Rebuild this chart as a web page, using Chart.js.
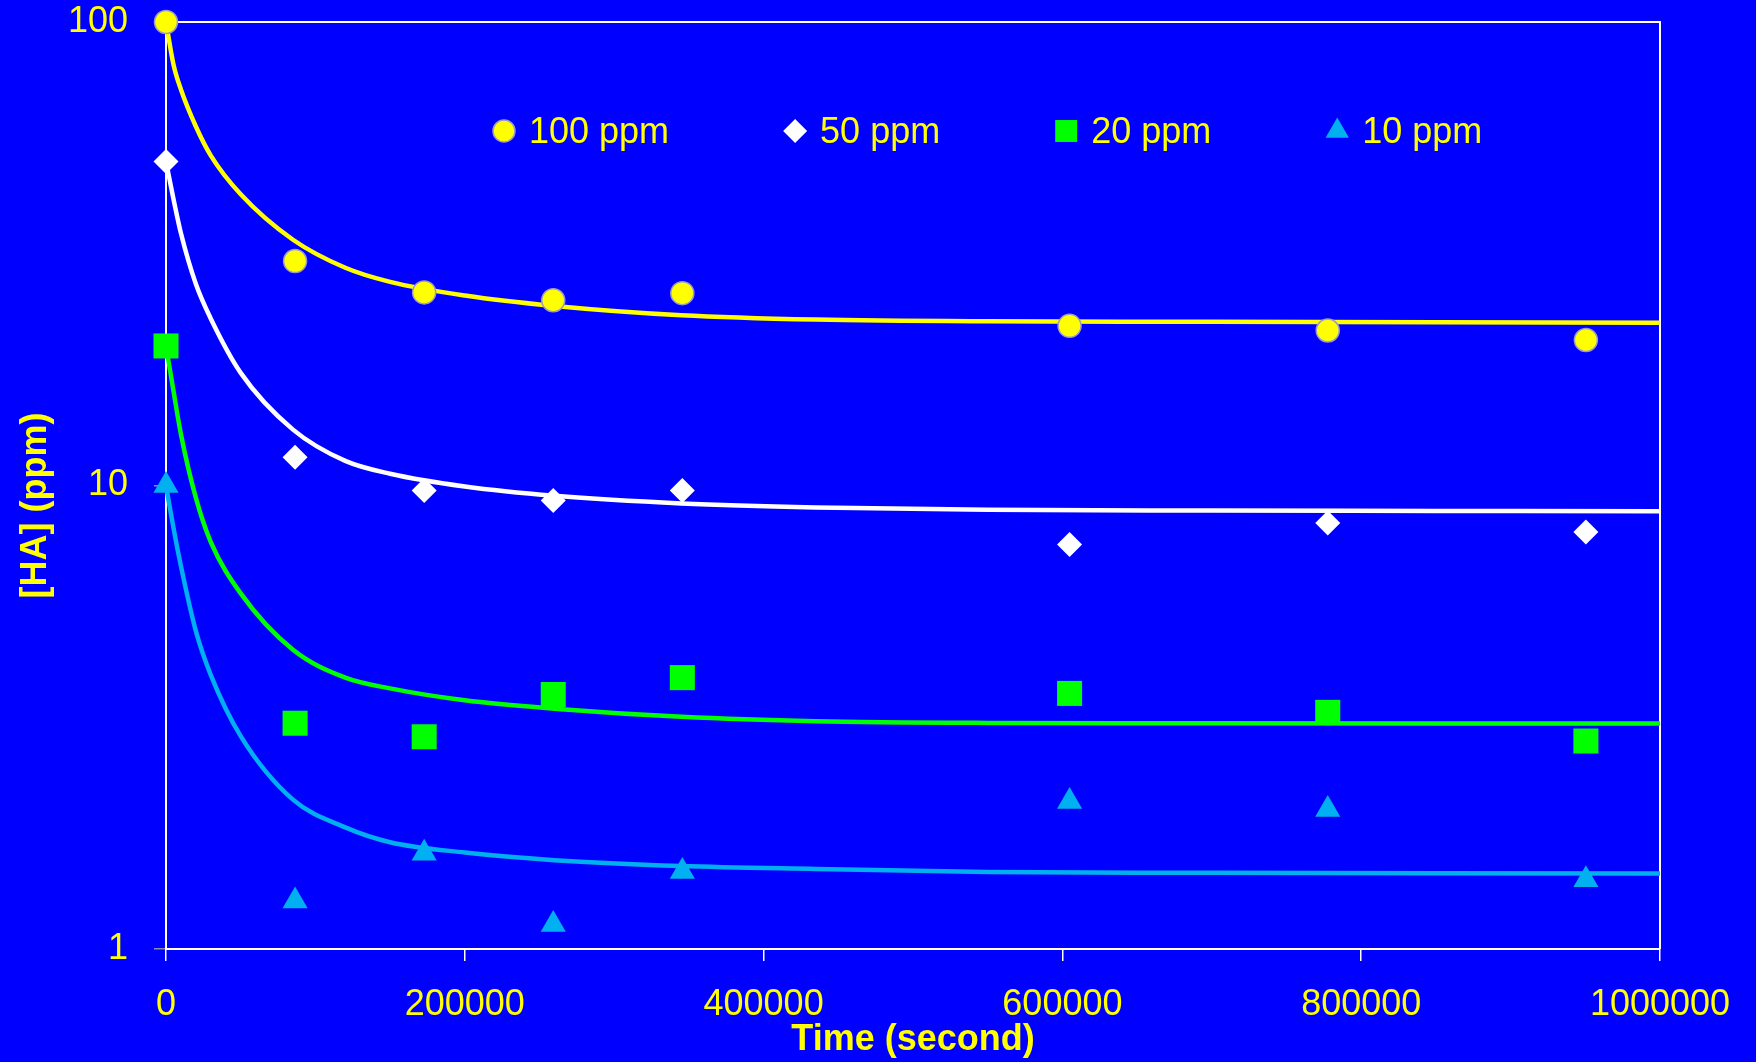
<!DOCTYPE html>
<html>
<head>
<meta charset="utf-8">
<script src="https://cdn.jsdelivr.net/npm/chart.js@4.4.0/dist/chart.umd.min.js"></script>
<style>
  html, body { margin: 0; padding: 0; background: #0000ff; }
  canvas { display: block; }
</style>
</head>
<body>
<canvas id="chart" width="1756" height="1062"></canvas>
<script>
// measured concentrations, sampling time in seconds
const times = [0, 86400, 172800, 259200, 345600, 604800, 777600, 950400];
const ha100 = [100, 30.5, 26.1, 25.1, 26.0, 22.1, 21.6, 20.6];
const ha50 = [50, 11.5, 9.75, 9.28, 9.75, 7.46, 8.3, 7.94];
const ha20 = [20, 3.07, 2.87, 3.54, 3.85, 3.56, 3.24, 2.81];
const ha10 = [10, 1.27, 1.61, 1.13, 1.47, 2.08, 2.0, 1.41];

// fitted model curves
const fitTime = [0, 5000, 10000, 20000, 30000, 50000, 85000, 120000, 150000, 200000,
                 260000, 345000, 435000, 550000, 700000, 850000, 1000000];
const fit100 = [100, 81, 71.5, 59.5, 51.5, 42.5, 33.9, 29.5, 27.5, 25.7,
                24.4, 23.3, 22.8, 22.6, 22.55, 22.5, 22.45];
const fit50 = [50, 41.5, 35, 27.2, 22.9, 17.5, 13.2, 11.3, 10.6, 9.95,
               9.5, 9.15, 8.97, 8.87, 8.83, 8.81, 8.8];
const fit20 = [20, 16.0, 12.9, 9.4, 7.55, 5.85, 4.42, 3.85, 3.65, 3.44,
               3.30, 3.17, 3.10, 3.075, 3.07, 3.066, 3.065];
const fit10 = [10, 8.1, 6.7, 4.85, 3.9, 2.88, 2.1, 1.83, 1.7, 1.615,
               1.555, 1.51, 1.488, 1.466, 1.46, 1.456, 1.455];

const xTicks = [0, 200000, 400000, 600000, 800000, 1000000];
const yTicks = [1, 10, 100];

const YELLOW = '#ffff00';
const GREEN = '#00ff00';
const CYAN = '#00b0f0';
const WHITE = '#ffffff';
const FONT = "'Liberation Sans', Arial, sans-serif";

Chart.defaults.font.family = FONT;
Chart.defaults.color = YELLOW;

function pts(xs, ys) {
  return xs.map((x, i) => ({ x: x, y: ys[i] }));
}

function markers(label, ys, style, color, radius, legendRadius, border) {
  return {
    label: label,
    data: pts(times, ys),
    showLine: false,
    pointStyle: style,
    pointRadius: radius,
    pointHoverRadius: radius,
    backgroundColor: color,
    pointBackgroundColor: color,
    borderColor: border || color,
    pointBorderColor: border || color,
    pointBorderWidth: border ? 1.5 : 0,
    borderWidth: border ? 1.5 : 0,
    legendRadius: legendRadius,
    inLegend: true,
    clip: false
  };
}

function curve(ys, color) {
  return {
    label: '',
    data: pts(fitTime, ys),
    showLine: true,
    pointRadius: 0,
    borderColor: color,
    borderWidth: 4.5,
    cubicInterpolationMode: 'monotone',
    clip: false
  };
}

// frame around the plot (top and right edges)
const frame = {
  id: 'frame',
  beforeDatasetsDraw(chart) {
    const a = chart.chartArea;
    const ctx = chart.ctx;
    ctx.save();
    ctx.strokeStyle = WHITE;
    ctx.lineWidth = 2;
    ctx.beginPath();
    ctx.moveTo(a.left, a.top);
    ctx.lineTo(a.right, a.top);
    ctx.lineTo(a.right, a.bottom);
    ctx.stroke();
    ctx.restore();
  }
};

// legend drawn inside the plot area
const insideLegend = {
  id: 'insideLegend',
  afterDatasetsDraw(chart) {
    const a = chart.chartArea;
    const ctx = chart.ctx;
    let x = a.left + 338;
    const y = a.top + 109;
    ctx.save();
    ctx.font = '36px ' + FONT;
    ctx.textBaseline = 'middle';
    ctx.textAlign = 'left';
    chart.data.datasets.forEach(ds => {
      if (!ds.inLegend) return;
      ctx.fillStyle = ds.backgroundColor;
      ctx.strokeStyle = ds.borderColor;
      ctx.lineWidth = ds.borderWidth;
      Chart.helpers.drawPoint(ctx, {
        pointStyle: ds.pointStyle,
        radius: ds.legendRadius,
        borderWidth: ds.borderWidth,
        rotation: 0
      }, x, y);
      ctx.fillStyle = YELLOW;
      ctx.fillText(ds.label, x + 25, y + 2);
      x += 25 + ctx.measureText(ds.label).width + 126;
    });
    ctx.restore();
  }
};

new Chart(document.getElementById('chart'), {
  type: 'scatter',
  data: {
    datasets: [
      markers('100 ppm', ha100, 'circle', YELLOW, 11.5, 11, '#9a9ac8'),
      markers('50 ppm', ha50, 'rectRot', WHITE, 12.5, 12),
      markers('20 ppm', ha20, 'rect', GREEN, 17.7, 15.5),
      markers('10 ppm', ha10, 'triangle', CYAN, 14.5, 13.5),
      curve(fit100, YELLOW),
      curve(fit50, WHITE),
      curve(fit20, GREEN),
      curve(fit10, CYAN)
    ]
  },
  options: {
    responsive: false,
    animation: false,
    events: [],
    layout: { padding: { left: 0, top: 0, right: 96, bottom: 0 } },
    plugins: {
      legend: { display: false },
      tooltip: { enabled: false }
    },
    scales: {
      x: {
        type: 'linear',
        min: 0,
        max: 1000000,
        afterBuildTicks: s => { s.ticks = xTicks.map(v => ({ value: v })); },
        afterFit: s => { s.height = 113; },
        border: { color: WHITE, width: 2 },
        grid: { drawOnChartArea: false, color: WHITE, tickColor: WHITE, tickLength: 12, lineWidth: 1.5 },
        ticks: {
          color: YELLOW,
          font: { size: 36 },
          padding: 22,
          maxRotation: 0,
          callback: v => String(v)
        },
        title: {
          display: true,
          text: 'Time (second)',
          color: YELLOW,
          font: { size: 36, weight: 'bold' },
          padding: { top: 0, bottom: 0 }
        }
      },
      y: {
        type: 'logarithmic',
        min: 1,
        max: 100,
        afterBuildTicks: s => { s.ticks = yTicks.map(v => ({ value: v })); },
        afterFit: s => { s.width = 166; s.paddingTop = 22; s.paddingBottom = 22; },
        border: { color: WHITE, width: 2 },
        grid: { drawOnChartArea: false, color: '#8c8cb4', tickColor: '#8c8cb4', tickLength: 12, lineWidth: 1.5 },
        ticks: {
          color: YELLOW,
          font: { size: 36 },
          padding: 26,
          callback: v => String(v)
        },
        title: {
          display: true,
          text: '[HA] (ppm)    ',
          color: YELLOW,
          font: { size: 36, weight: 'bold' },
          padding: { top: 14, bottom: 0 }
        }
      }
    }
  },
  plugins: [frame, insideLegend]
});
</script>
</body>
</html>
